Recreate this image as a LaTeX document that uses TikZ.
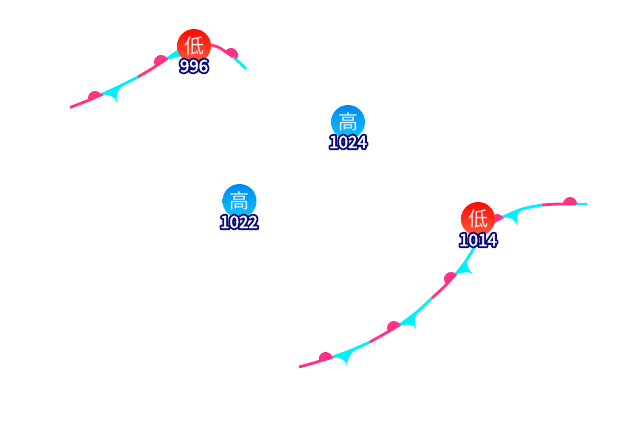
\documentclass[tikz,border=0pt]{standalone}
\usepackage{fontspec}
\setmainfont{Noto Sans CJK SC}
\definecolor{pinkfront}{HTML}{FF3385}
\definecolor{cyanfront}{HTML}{00F0FF}
\definecolor{lowtop}{HTML}{FF0A00}
\definecolor{lowbottom}{HTML}{FF5A40}
\definecolor{hightop}{HTML}{0088F0}
\definecolor{highbottom}{HTML}{10C4FF}
\definecolor{glyphwhite}{HTML}{FFE8E8}
\tikzset{
  pinkline/.style={draw=pinkfront,line width=2.8pt},
  cyanline/.style={draw=cyanfront,line width=2.8pt},
  bump/.style={fill=pinkfront},
  spike/.style={fill=cyanfront},
  lowsys/.style={circle,minimum size=34pt,inner sep=0pt,top color=lowtop,bottom color=lowbottom,text=glyphwhite,font=\fontsize{20}{20}\selectfont},
  highsys/.style={circle,minimum size=34pt,inner sep=0pt,top color=hightop,bottom color=highbottom,text=white!90!cyan,font=\fontsize{20}{20}\selectfont},
  pressure/.style={inner sep=0pt,text=white,font=\fontsize{17}{17}\selectfont}
}
\newcommand{\outlined}[1]{\rlap{\special{pdf:code q 1 Tr 4.2 w 1 j 0.04 0.04 0.47 RG}#1\special{pdf:code Q}}\special{pdf:code q 2 Tr 0.35 w 1 1 1 RG}#1\special{pdf:code Q}}
\newcommand{\bumpat}[4]{\fill[bump] (#1,#2) ++(180-#3:#4) arc[start angle=180-#3,end angle=360-#3,radius=#4] -- cycle;}
\begin{document}
\begin{tikzpicture}[x=1pt,y=-1pt]
\useasboundingbox (0,0) rectangle (640,440);
% north-west front
\draw[pinkline] plot[smooth] coordinates {(70,107.5) (88,100.5) (103,94)};
\draw[cyanline] plot[smooth] coordinates {(103,94) (120,86) (138,77)};
\draw[pinkline] plot[smooth] coordinates {(138,77) (153,68) (168,58)};
\draw[cyanline] plot[smooth] coordinates {(168,58) (176,53) (184,49)};
\draw[pinkline] plot[smooth] coordinates {(205,44) (218,47) (233,57)};
\draw[cyanline] plot[smooth] coordinates {(233,57) (240,63) (246,69)};
\bumpat{95}{98}{20}{7}
\bumpat{161}{62}{33}{7}
\bumpat{231}{55}{-35}{7}
\fill[spike] (101,93.5) .. controls (109,95) and (115,96) .. (117,102.5) .. controls (116,95) and (117,90) .. (125,84) -- cycle;
\fill[spike] (166,58) -- (180,48) -- (182,56) -- (170,59) -- cycle;
% south-east front
\draw[pinkline] plot[smooth] coordinates {(299,367) (317,362) (333,357)};
\draw[cyanline] plot[smooth] coordinates {(333,357) (352,350) (370,342)};
\draw[pinkline] plot[smooth] coordinates {(370,342) (386,333) (401,324)};
\draw[cyanline] plot[smooth] coordinates {(401,324) (417,312) (432,298)};
\draw[pinkline] plot[smooth] coordinates {(432,298) (444,287) (456,274)};
\draw[cyanline] plot[smooth] coordinates {(456,274) (466,261) (476,245) (490,225)};
\draw[pinkline] plot[smooth] coordinates {(488,227) (494,222) (503,217)};
\draw[cyanline] plot[smooth] coordinates {(503,217) (522,209) (542,205)};
\draw[pinkline] plot[smooth] coordinates {(542,205) (558,204) (576,204)};
\draw[cyanline] plot[smooth] coordinates {(576,204) (582,204) (587,204)};
\bumpat{325.7}{359}{15}{7}
\bumpat{394}{328}{28}{7}
\bumpat{451}{279}{45}{7}
\bumpat{497}{221}{30}{7}
\bumpat{570}{204}{0}{7}
\fill[spike] (332,357) .. controls (340,357.5) and (346,359) .. (347,366.5) .. controls (347,359) and (350,353) .. (358,348) -- cycle;
\fill[spike] (399,325) .. controls (407,325) and (414,323) .. (416,329) .. controls (414,322) and (414,315) .. (422,307) -- cycle;
\fill[spike] (455,274) .. controls (462,272.5) and (469,271) .. (473,274) .. controls (468,270) and (465,264) .. (469,255) -- cycle;
\fill[spike] (502,217) .. controls (509,217) and (514,218) .. (518,226) .. controls (516,218) and (517,212) .. (524,207) -- cycle;
% systems
\node[lowsys] (lowa) at (194,46) {低};
\node[highsys] (higha) at (348,122) {高};
\node[highsys] (highb) at (239.5,201) {高};
\node[lowsys] (lowb) at (478,219) {低};
\node[pressure] (pa) at (194,66) {\outlined{996}};
\node[pressure] (pb) at (348,142) {\outlined{1024}};
\node[pressure] (pc) at (239,222) {\outlined{1022}};
\node[pressure] (pd) at (478,240) {\outlined{1014}};
\end{tikzpicture}
\end{document}
